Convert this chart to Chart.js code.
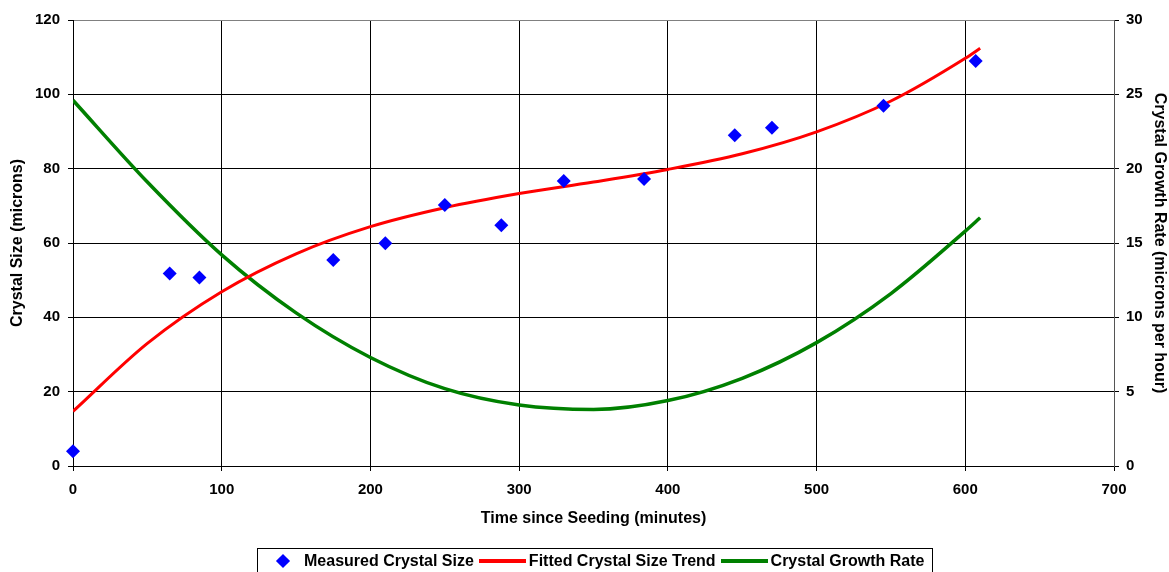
<!DOCTYPE html>
<html>
<head>
<meta charset="utf-8">
<script src="https://cdn.jsdelivr.net/npm/chart.js@4/dist/chart.umd.min.js"></script>
<style>
  body { margin: 0; background: #fff; font-family: "Liberation Sans", Arial, sans-serif; }
  #wrap { position: relative; width: 1169px; height: 572px; }
  #legend {
    position: absolute; left: 257px; top: 548px; width: 676px; height: 26px;
    border: 1px solid #000; box-sizing: border-box;
    font: bold 16px "Liberation Sans", Arial, sans-serif; color: #000;
    display: flex; align-items: center; white-space: nowrap;
  }
  .item { display: flex; align-items: center; }
  .diamond { width: 10px; height: 10px; background: #0000ff; transform: rotate(45deg); margin: 0 16px 0 20px; }
  .line { width: 47px; height: 4px; margin: 0 3px 0 5px; }
</style>
</head>
<body>
<div id="wrap">
  <canvas id="chart"></canvas>
  <div id="legend"></div>
</div>
<script>
// measured points
const timeMeasured = [0, 65, 85, 175, 210, 250, 288, 330, 384, 445, 470, 545, 607];
const sizeMeasured = [4.0, 51.8, 50.7, 55.4, 59.9, 70.2, 64.8, 76.7, 77.2, 89.0, 91.0, 96.9, 109.0];

// fitted trend and growth rate
const timeFit = [0, 50, 100, 150, 200, 250, 300, 350, 400, 450, 500, 550, 600, 610];
const sizeFit = [14.7, 33.0, 46.9, 57.1, 64.4, 69.5, 73.3, 76.4, 79.8, 84.0, 89.9, 98.2, 109.7, 112.4];
const growthRate = [24.6, 19.1, 14.2, 10.3, 7.3, 5.2, 4.1, 3.8, 4.4, 5.9, 8.3, 11.6, 15.8, 16.7];

const labels = ['Measured Crystal Size', 'Fitted Crystal Size Trend', 'Crystal Growth Rate'];
const colors = ['#0000ff', '#ff0000', '#008000'];

const font = { family: '"Liberation Sans", Arial, sans-serif', weight: 'bold' };
const tickFont = { ...font, size: 15 };
const titleFont = { ...font, size: 16 };

const toPoints = (xs, ys) => xs.map((x, i) => ({ x: x, y: ys[i] }));

new Chart(document.getElementById('chart'), {
    type: 'scatter',
    data: {
        datasets: [{
            label: labels[0],
            data: toPoints(timeMeasured, sizeMeasured),
            pointStyle: 'rectRot',
            pointRadius: 7,
            pointHoverRadius: 7,
            backgroundColor: colors[0],
            borderColor: colors[0],
            borderWidth: 0,
            clip: false,
            yAxisID: 'y'
        }, {
            label: labels[1],
            data: toPoints(timeFit, sizeFit),
            showLine: true,
            pointRadius: 0,
            borderColor: colors[1],
            backgroundColor: colors[1],
            borderWidth: 3,
            cubicInterpolationMode: 'monotone',
            yAxisID: 'y'
        }, {
            label: labels[2],
            data: toPoints(timeFit, growthRate),
            showLine: true,
            pointRadius: 0,
            borderColor: colors[2],
            backgroundColor: colors[2],
            borderWidth: 3.5,
            cubicInterpolationMode: 'monotone',
            yAxisID: 'y1'
        }]
    },
    options: {
        responsive: true,
        maintainAspectRatio: false,
        animation: false,
        layout: { padding: { top: 20, left: 0, right: 0, bottom: 0 } },
        plugins: {
            legend: { display: false },
            tooltip: { enabled: false }
        },
        scales: {
            x: {
                type: 'linear',
                min: 0, max: 700,
                ticks: { stepSize: 100, color: '#000', font: tickFont, padding: 10, maxRotation: 0 },
                grid: {
                    color: ctx => ctx.tick && ctx.tick.value === 700 ? '#808080' : '#000',
                    tickColor: '#000', tickLength: 5, lineWidth: 1
                },
                border: { color: '#000', width: 1 },
                title: { display: true, text: 'Time since Seeding (minutes)', color: '#000', font: titleFont, padding: { top: 0, bottom: 44 } },
                afterFit: scale => { scale.height = 106; }
            },
            y: {
                position: 'left',
                min: 0, max: 120,
                ticks: { stepSize: 20, color: '#000', font: tickFont, padding: 8 },
                grid: {
                    color: ctx => ctx.tick && ctx.tick.value === 120 ? '#808080' : '#000',
                    tickColor: '#000', tickLength: 5, lineWidth: 1
                },
                border: { color: '#000', width: 1 },
                title: { display: true, text: 'Crystal Size (microns)', color: '#000', font: titleFont, padding: { top: 8, bottom: 0 } },
                afterFit: scale => { scale.width = 73; }
            },
            y1: {
                position: 'right',
                min: 0, max: 30,
                ticks: { stepSize: 5, color: '#000', font: tickFont, padding: 7 },
                grid: { drawOnChartArea: false, tickColor: '#000', tickLength: 5 },
                border: { color: '#555', width: 1 },
                title: { display: true, text: 'Crystal Growth Rate (microns per hour)', color: '#000', font: titleFont, padding: { top: 0, bottom: 0 } },
                afterFit: scale => { scale.width = 55; }
            }
        }
    }
});

// legend below the plot
const legend = document.getElementById('legend');
labels.forEach((text, i) => {
    const item = document.createElement('div');
    item.className = 'item';
    const mark = document.createElement('span');
    if (i === 0) {
        mark.className = 'diamond';
    } else {
        mark.className = 'line';
        mark.style.background = colors[i];
    }
    item.appendChild(mark);
    const label = document.createElement('span');
    label.textContent = text;
    item.appendChild(label);
    legend.appendChild(item);
});
</script>
</body>
</html>
